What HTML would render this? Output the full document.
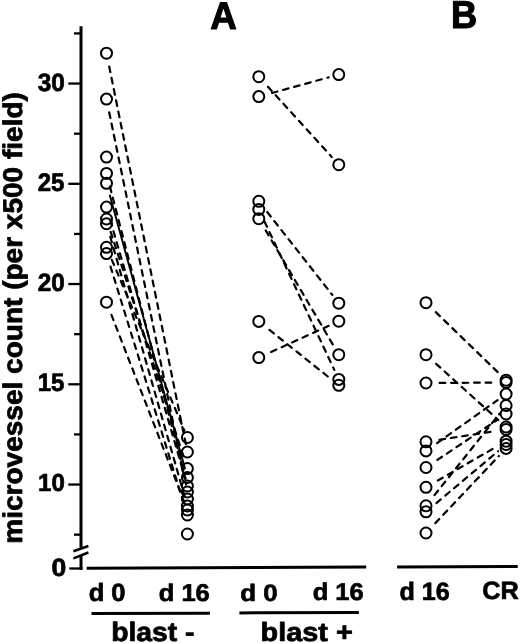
<!DOCTYPE html>
<html><head><meta charset="utf-8"><style>
html,body{margin:0;padding:0;background:#fff;}
body{width:520px;height:643px;overflow:hidden;}
svg{display:block;-webkit-font-smoothing:antialiased;will-change:transform;}
text{text-rendering:geometricPrecision;}
</style></head><body>
<svg width="520" height="643" viewBox="0 0 520 643">
<rect width="520" height="643" fill="#fff"/>
<g stroke="#000" stroke-width="3" stroke-linecap="butt" fill="none">
<line x1="81.0" y1="26.2" x2="81.0" y2="547.5" />
<line x1="81.0" y1="555.5" x2="81.0" y2="569.8" />
<line x1="68.3" y1="83.55" x2="81.0" y2="83.55" stroke-width="2.3" />
<line x1="68.3" y1="183.80" x2="81.0" y2="183.80" stroke-width="2.3" />
<line x1="68.3" y1="284.05" x2="81.0" y2="284.05" stroke-width="2.3" />
<line x1="68.3" y1="384.30" x2="81.0" y2="384.30" stroke-width="2.3" />
<line x1="68.3" y1="484.55" x2="81.0" y2="484.55" stroke-width="2.3" />
<line x1="74" y1="33.42" x2="81.0" y2="33.42" stroke-width="2.3" />
<line x1="74" y1="133.68" x2="81.0" y2="133.68" stroke-width="2.3" />
<line x1="74" y1="233.93" x2="81.0" y2="233.93" stroke-width="2.3" />
<line x1="74" y1="334.18" x2="81.0" y2="334.18" stroke-width="2.3" />
<line x1="74" y1="434.43" x2="81.0" y2="434.43" stroke-width="2.3" />
<line x1="74" y1="534.67" x2="81.0" y2="534.67" stroke-width="2.3" />
<line x1="69.3" y1="568.5" x2="82.5" y2="568.5" stroke-width="2.3" />
<line x1="73.4" y1="551.3" x2="88.4" y2="546.0" stroke-width="2.5" />
<line x1="73.4" y1="558.3" x2="88.4" y2="552.5" stroke-width="2.5" />
<line x1="86.7" y1="568.2" x2="366.2" y2="567.1" />
<line x1="397.1" y1="566.9" x2="517.7" y2="566.4" />
<line x1="91.5" y1="613.5" x2="210" y2="613.3" />
<line x1="239.4" y1="612.9" x2="358.9" y2="612.6" />
</g>
<g stroke="#000" stroke-width="2" fill="none">
<circle cx="106.5" cy="53.2" r="5.5" />
<circle cx="106.5" cy="99.1" r="5.5" />
<circle cx="106.5" cy="157.1" r="5.5" />
<circle cx="106.5" cy="173.4" r="5.5" />
<circle cx="106.5" cy="183.3" r="5.5" />
<circle cx="106.5" cy="207.1" r="5.5" />
<circle cx="106.5" cy="219" r="5.5" />
<circle cx="106.5" cy="223.7" r="5.5" />
<circle cx="106.5" cy="247.3" r="5.5" />
<circle cx="106.5" cy="253.6" r="5.5" />
<circle cx="106.5" cy="302.2" r="5.5" />
<circle cx="187.4" cy="437.5" r="5.5" />
<circle cx="187.4" cy="452" r="5.5" />
<circle cx="187.4" cy="468.6" r="5.5" />
<circle cx="187.4" cy="477.5" r="5.5" />
<circle cx="187.4" cy="486" r="5.5" />
<circle cx="187.4" cy="492" r="5.5" />
<circle cx="187.4" cy="499" r="5.5" />
<circle cx="187.4" cy="506" r="5.5" />
<circle cx="187.4" cy="510" r="5.5" />
<circle cx="187.4" cy="515" r="5.5" />
<circle cx="187.4" cy="534.0" r="5.5" />
<circle cx="258.8" cy="76.7" r="5.5" />
<circle cx="338.8" cy="164.7" r="5.5" />
<circle cx="258.8" cy="96.6" r="5.5" />
<circle cx="338.8" cy="74.6" r="5.5" />
<circle cx="258.8" cy="201.3" r="5.5" />
<circle cx="338.8" cy="303.2" r="5.5" />
<circle cx="258.8" cy="209.4" r="5.5" />
<circle cx="338.8" cy="379.4" r="5.5" />
<circle cx="258.8" cy="218.7" r="5.5" />
<circle cx="338.8" cy="354.7" r="5.5" />
<circle cx="258.8" cy="321.4" r="5.5" />
<circle cx="338.8" cy="385.3" r="5.5" />
<circle cx="258.8" cy="357.6" r="5.5" />
<circle cx="338.8" cy="321.2" r="5.5" />
<circle cx="426.0" cy="302.7" r="5.5" />
<circle cx="506.1" cy="380.2" r="5.5" />
<circle cx="426.0" cy="354.7" r="5.5" />
<circle cx="506.1" cy="427" r="5.5" />
<circle cx="426.0" cy="383" r="5.5" />
<circle cx="506.1" cy="382.5" r="5.5" />
<circle cx="426.0" cy="441.8" r="5.5" />
<circle cx="506.1" cy="429.5" r="5.5" />
<circle cx="426.0" cy="450.9" r="5.5" />
<circle cx="506.1" cy="394.1" r="5.5" />
<circle cx="426.0" cy="467.5" r="5.5" />
<circle cx="506.1" cy="414" r="5.5" />
<circle cx="426.0" cy="487.3" r="5.5" />
<circle cx="506.1" cy="441.2" r="5.5" />
<circle cx="426.0" cy="505.8" r="5.5" />
<circle cx="506.1" cy="405.5" r="5.5" />
<circle cx="426.0" cy="511.8" r="5.5" />
<circle cx="506.1" cy="444.5" r="5.5" />
<circle cx="426.0" cy="533" r="5.5" />
<circle cx="506.1" cy="448.4" r="5.5" />
</g>
<g stroke="#000" stroke-width="2.2" stroke-dasharray="5.7 5.8" stroke-linecap="round" fill="none">
<line x1="109.20" y1="66.53" x2="185.91" y2="444.65" />
<line x1="109.24" y1="112.42" x2="185.89" y2="484.65" />
<line x1="109.91" y1="186.57" x2="185.52" y2="478.74" />
<line x1="110.29" y1="220.16" x2="185.31" y2="478.80" />
<line x1="110.69" y1="231.94" x2="185.09" y2="461.47" />
<line x1="110.25" y1="236.77" x2="185.33" y2="498.79" />
<line x1="111.82" y1="259.81" x2="184.46" y2="430.60" />
<line x1="110.52" y1="266.59" x2="185.18" y2="507.84" />
<line x1="111.43" y1="314.87" x2="184.68" y2="503.01" />
<line x1="267.95" y1="86.76" x2="331.74" y2="156.93" />
<line x1="271.91" y1="92.99" x2="328.68" y2="77.38" />
<line x1="267.20" y1="212.00" x2="332.32" y2="294.94" />
<line x1="264.59" y1="221.71" x2="334.33" y2="369.90" />
<line x1="265.70" y1="230.42" x2="333.48" y2="345.65" />
<line x1="269.43" y1="329.89" x2="330.60" y2="378.75" />
<line x1="271.18" y1="351.97" x2="329.24" y2="325.55" />
<line x1="435.77" y1="312.16" x2="498.55" y2="372.90" />
<line x1="436.10" y1="363.81" x2="498.31" y2="419.96" />
<line x1="439.60" y1="382.92" x2="495.60" y2="382.57" />
<line x1="439.44" y1="439.74" x2="495.72" y2="431.09" />
<line x1="437.09" y1="443.03" x2="497.53" y2="400.17" />
<line x1="437.31" y1="459.95" x2="497.37" y2="419.83" />
<line x1="437.79" y1="480.52" x2="497.00" y2="446.44" />
<line x1="434.49" y1="495.17" x2="499.55" y2="413.70" />
<line x1="436.41" y1="503.05" x2="498.06" y2="451.25" />
<line x1="435.35" y1="523.12" x2="498.88" y2="456.02" />
</g>
<g stroke="#000" stroke-width="1.9" fill="none">
<line x1="109.68" y1="194.87" x2="185.15" y2="469.30" />
</g>
<g font-family="'Liberation Sans', sans-serif" font-weight="bold" fill="#000" stroke="#000" stroke-width="0.028" stroke-linejoin="round">
<text transform="translate(37.64,90.60) scale(24.402,25.070)" font-size="1">30</text>
<text transform="translate(37.71,190.80) scale(24.000,25.352)" font-size="1">25</text>
<text transform="translate(37.70,290.60) scale(24.348,25.070)" font-size="1">20</text>
<text transform="translate(37.71,391.10) scale(24.000,25.429)" font-size="1">15</text>
<text transform="translate(38.01,491.30) scale(24.059,24.648)" font-size="1">10</text>
<text transform="translate(51.39,575.90) scale(26.526,24.930)" font-size="1">0</text>
<text transform="translate(210.23,29.25) scale(36.716,38.406)" font-size="1">A</text>
<text transform="translate(451.00,28.35) scale(36.230,38.841)" font-size="1">B</text>
<text transform="translate(88.63,601.30) scale(25.568,24.898)" font-size="1">d 0</text>
<text transform="translate(158.73,601.01) scale(25.506,24.218)" font-size="1">d 16</text>
<text transform="translate(240.31,600.61) scale(25.934,23.673)" font-size="1">d 0</text>
<text transform="translate(312.63,600.21) scale(25.506,24.082)" font-size="1">d 16</text>
<text transform="translate(399.55,600.00) scale(25.091,25.034)" font-size="1">d 16</text>
<text transform="translate(482.34,599.20) scale(25.290,25.070)" font-size="1">CR</text>
<text transform="translate(111.21,641.18) scale(28.275,26.667)" font-size="1">blast -</text>
<text transform="translate(260.57,640.99) scale(28.867,26.259)" font-size="1">blast +</text>
<text transform="translate(21.77,543.67) rotate(-90) scale(28.016,27.059)" font-size="1">microvessel count (per x500 field)</text>
</g>
</svg>
</body></html>
